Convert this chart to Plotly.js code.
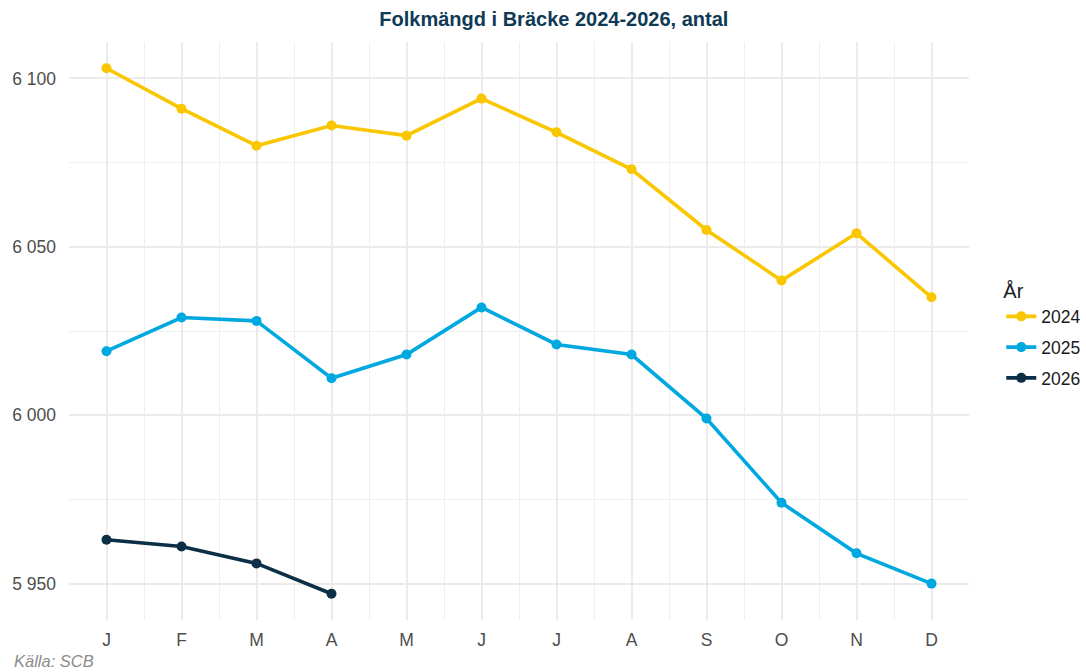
<!DOCTYPE html>
<html>
<head>
<meta charset="utf-8">
<script src="https://cdn.plot.ly/plotly-3.0.1.min.js"></script>
<style>html,body{margin:0;padding:0;background:#fff}#chart{width:1086px;height:672px}</style>
</head>
<body>
<div id="chart"></div>
<script>
const months = ["J","F","M","A","M","J","J","A","S","O","N","D"];
const years = ["2024","2025","2026"];
const values2024 = [6103, 6091, 6080, 6086, 6083, 6094, 6084, 6073, 6055, 6040, 6054, 6035];
const values2025 = [6019, 6029, 6028, 6011, 6018, 6032, 6021, 6018, 5999, 5974, 5959, 5950];
const values2026 = [5963, 5961, 5956, 5947];
const colors = ["#FAC600", "#00A8E0", "#0B2F47"];
const yTicks = [5950, 6000, 6050, 6100];

const series = [values2024, values2025, values2026];
const idx = months.map((m, i) => i);
const traces = series.map((vals, k) => ({
  type: "scatter",
  mode: "lines+markers",
  name: years[k],
  legendgroup: years[k],
  x: vals.map((v, i) => idx[i]),
  y: vals,
  line: {color: colors[k], width: 3.6},
  marker: {color: colors[k], size: 10}
}));

const layout = {
  width: 1086, height: 672,
  paper_bgcolor: "#fff", plot_bgcolor: "#fff",
  separators: ", ",
  margin: {l: 69, r: 117, t: 42, b: 52},
  font: {family: "Liberation Sans, Arial, sans-serif", color: "#4D4D4D", size: 17.5},
  title: {
    text: "<b>Folkmängd i Bräcke 2024-2026, antal</b>",
    font: {size: 20, color: "#0F3A55", family: "Liberation Sans, Arial, sans-serif"},
    x: 0.51, xanchor: "center", y: 0.972, yanchor: "middle"
  },
  xaxis: {
    range: [-0.5, 11.5],
    tickmode: "array",
    tickvals: idx,
    ticktext: months,
    showgrid: true, gridcolor: "#EBEBEB", gridwidth: 2,
    zeroline: false, showline: false, ticks: "",
    ticklabelstandoff: 7,
    minor: {tickmode: "linear", tick0: -0.5, dtick: 1, showgrid: true, gridcolor: "#EFEFEF", gridwidth: 1, ticks: ""},
    fixedrange: true
  },
  yaxis: {
    range: [5939.2, 6110.8],
    tickmode: "array",
    tickvals: yTicks,
    tickformat: ",d",
    showgrid: true, gridcolor: "#EBEBEB", gridwidth: 2,
    zeroline: false, showline: false, ticks: "",
    ticklabelstandoff: 12,
    minor: {tickmode: "linear", tick0: 5925, dtick: 50, showgrid: true, gridcolor: "#EFEFEF", gridwidth: 1, ticks: ""},
    fixedrange: true
  },
  legend: {
    title: {text: "År", font: {size: 20, color: "#1A1A1A"}},
    font: {size: 17.5, color: "#1A1A1A"},
    xref: "container", x: 0.922, xanchor: "left",
    yref: "paper", y: 0.494, yanchor: "middle",
    traceorder: "grouped", tracegroupgap: 5, itemwidth: 30
  },
  showlegend: true,
  annotations: [{
    text: "<i>Källa: SCB</i>", xref: "paper", yref: "paper",
    x: -0.063, xanchor: "left", y: -0.071, yanchor: "middle",
    showarrow: false, font: {size: 16.5, color: "#8C8C8C"}
  }]
};

Plotly.newPlot("chart", traces, layout, {displayModeBar: false, staticPlot: true});
</script>
</body>
</html>
